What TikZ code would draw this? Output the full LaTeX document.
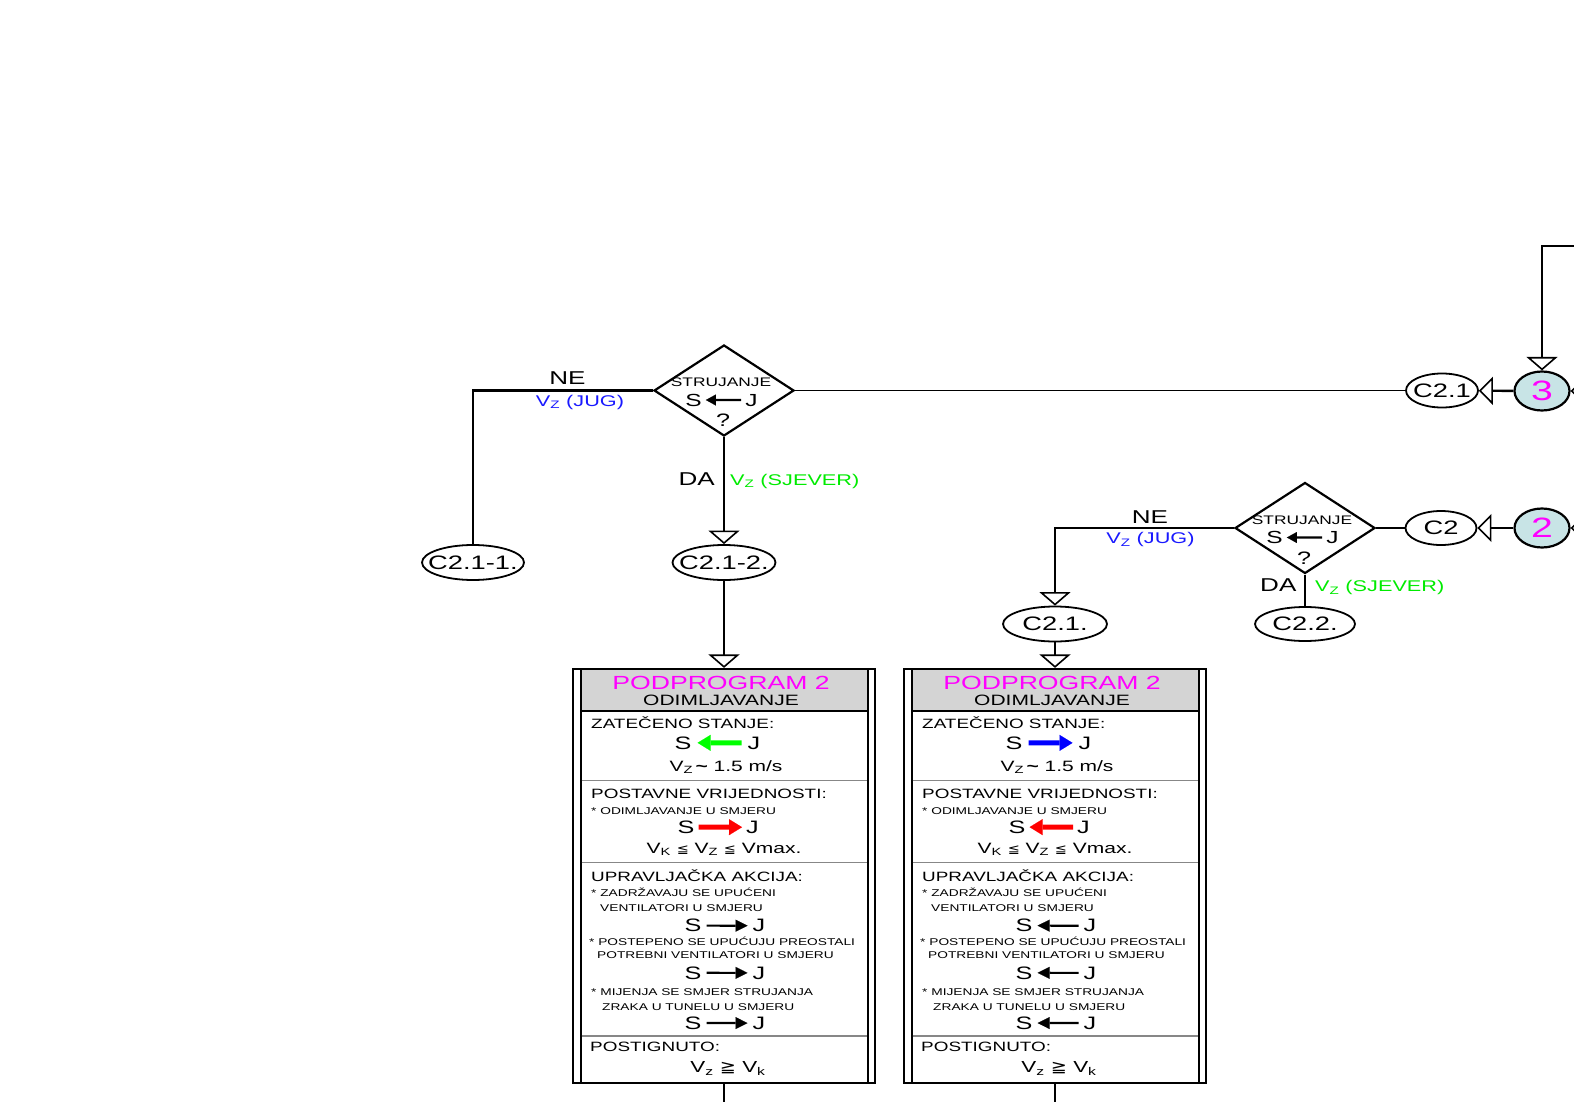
\documentclass[tikz,border=0pt]{standalone}
\usepackage{fontspec}
\setmainfont[FakeStretch=1.4]{Liberation Sans}
\newfontfamily\relfont[FakeStretch=1.2]{DejaVu Sans}
\usetikzlibrary{arrows.meta,shapes.geometric,calc}

\definecolor{prgmag}{RGB}{255,0,255}
\definecolor{jugblue}{RGB}{25,25,255}
\definecolor{sjgreen}{RGB}{0,235,0}
\definecolor{arrgreen}{RGB}{0,255,0}
\definecolor{arrblue}{RGB}{0,0,255}
\definecolor{arrred}{RGB}{255,0,0}
\definecolor{connfill}{RGB}{200,228,230}
\definecolor{hdrgrey}{RGB}{212,212,212}
\definecolor{sepgrey}{RGB}{135,135,135}

\newcommand\fsz[1]{\fontsize{#1}{#1}\selectfont}
% label set on a zero-width box so the ellipse keeps its own size
\newcommand\tag[1]{\makebox[0pt]{#1}}

\tikzset{
  conn/.style={line width=2.4pt},
  thinconn/.style={line width=1.6pt},
  downhead/.style={-{Triangle[open,length=13.5pt,width=31pt,line width=1.6pt]}},
  lefthead/.style={-{Triangle[open,length=14pt,width=28pt,line width=1.6pt]}},
  term/.style={ellipse,draw,line width=1.8pt,inner sep=0pt,fill=white,font=\fsz{19.5}},
  joint/.style={ellipse,draw,line width=2.2pt,inner sep=0pt,fill=connfill,
    minimum width=55pt,minimum height=39pt,font=\fsz{28},text=prgmag},
  decision/.style={diamond,draw,line width=2.2pt,inner sep=0pt,
    minimum width=140pt,minimum height=91pt},
  txt/.style={inner sep=0pt,anchor=base west},
  ctxt/.style={inner sep=0pt,anchor=base},
  letter/.style={inner sep=0pt,anchor=base,font=\fsz{18}},
  smallletter/.style={inner sep=0pt,anchor=base,font=\fsz{17.5}},
  wideflow/.style={line width=5pt,-{Triangle[length=13pt,width=16pt,line width=0.1pt]}},
  flow/.style={line width=2.2pt,-{Triangle[length=12pt,width=12pt,line width=0.1pt]}},
  tinyflow/.style={line width=2.2pt,-{Triangle[length=10pt,width=11pt,line width=0.1pt]}},
  boxframe/.style={draw,line width=2.2pt,inner sep=0pt,minimum width=302pt,minimum height=414pt},
  boxrule/.style={line width=2pt},
  seprule/.style={line width=1.6pt,draw=sepgrey},
}

% One "PODPROGRAM 2" block.
% #1 name prefix, #2 centre x, #3 colour of the present-flow arrow,
% #4/#5 ends of that arrow (s or j), #6/#7 ends of the set-point arrow,
% #8/#9 ends of the three action arrows
\newcommand\subprog[9]{%
  \fill[hdrgrey] ({#2-143.3},669) rectangle ({#2+143.5},711);
  \node[boxframe] (#1box) at (#2,876) {};
  \draw[boxrule] ({#2-143.3},669) -- ({#2-143.3},1083);
  \draw[boxrule] ({#2+143.5},669) -- ({#2+143.5},1083);
  \draw[boxrule] ({#2-143.3},711) -- ({#2+143.5},711);
  \draw[seprule] ({#2-142.4},780.5) -- ({#2+142.6},780.5);
  \draw[seprule] ({#2-142.4},862.5) -- ({#2+142.6},862.5);
  \draw[seprule] ({#2-142.4},1036) -- ({#2+142.6},1036);
  % header
  \node[ctxt,font=\fsz{19},text=prgmag] (#1title) at ({#2-3},689) {PODPROGRAM 2};
  \node[ctxt,font=\fsz{15}] (#1sub) at ({#2-3},705) {ODIMLJAVANJE};
  % present state
  \node[txt,font=\fsz{13.5}] (#1hz) at ({#2-133},728.5) {ZATEČENO STANJE:};
  \node[letter] (#1sa) at ({#2-41},749) {S};
  \node[letter] (#1ja) at ({#2+30},749) {J};
  \draw[wideflow,#3,shorten <=6pt,shorten >=6pt] (#1#4a) -- (#1#5a);
  \node[ctxt,font=\fsz{15}] (#1vz) at ({#2+2},771.4)
    {V\textsubscript{Z}\,\textbf{\textasciitilde} 1.5 m/s};
  % set point
  \node[txt,font=\fsz{13.5}] (#1hp) at ({#2-133},798.8) {POSTAVNE VRIJEDNOSTI:};
  \node[txt,font=\fsz{9.8}] (#1pa) at ({#2-133},814.5) {* ODIMLJAVANJE U SMJERU};
  \node[letter] (#1sb) at ({#2-38},833.3) {S};
  \node[letter] (#1jb) at ({#2+28.5},833.3) {J};
  \draw[wideflow,arrred,shorten <=4pt,shorten >=4pt] (#1#6b) -- (#1#7b);
  \node[ctxt,font=\fsz{15}] (#1lim) at (#2,853.4)
    {V\textsubscript{K} {\relfont\fsz{12}≦} V\textsubscript{Z} {\relfont\fsz{12}≦} Vmax.};
  % control action
  \node[txt,font=\fsz{13.5}] (#1hu) at ({#2-133},881.1) {UPRAVLJAČKA AKCIJA:};
  \node[txt,font=\fsz{9.8}] (#1ua) at ({#2-133},896.9) {* ZADRŽAVAJU SE UPUĆENI};
  \node[txt,font=\fsz{9.8}] (#1ub) at ({#2-124},911.9) {VENTILATORI U SMJERU};
  \node[letter] (#1sc) at ({#2-31},931.8) {S};
  \node[letter] (#1jc) at ({#2+35},931.8) {J};
  \draw[flow,shorten <=5pt,shorten >=5pt] (#1#8c) -- (#1#9c);
  \node[txt,font=\fsz{9.8}] (#1uc) at ({#2-135},945.1) {* POSTEPENO SE UPUĆUJU PREOSTALI};
  \node[txt,font=\fsz{9.8}] (#1ud) at ({#2-127},958.1) {POTREBNI VENTILATORI U SMJERU};
  \node[letter] (#1sd) at ({#2-31},979) {S};
  \node[letter] (#1jd) at ({#2+35},979) {J};
  \draw[flow,shorten <=5pt,shorten >=5pt] (#1#8d) -- (#1#9d);
  \node[txt,font=\fsz{9.8}] (#1ue) at ({#2-133},995.3) {* MIJENJA SE SMJER STRUJANJA};
  \node[txt,font=\fsz{9.8}] (#1uf) at ({#2-122},1010.3) {ZRAKA U TUNELU U SMJERU};
  \node[letter] (#1se) at ({#2-31},1029.2) {S};
  \node[letter] (#1je) at ({#2+35},1029.2) {J};
  \draw[flow,shorten <=5pt,shorten >=5pt] (#1#8e) -- (#1#9e);
  % result
  \node[txt,font=\fsz{13.5}] (#1hr) at ({#2-134},1051.8) {POSTIGNUTO:};
  \node[ctxt,font=\fsz{16}] (#1res) at ({#2+4},1072.7)
    {V\textsubscript{z} {\relfont\fsz{16}≧} V\textsubscript{k}};
}

% Text of a "STRUJANJE S <- J ?" decision, #1 prefix, #2 centre x, #3 centre y
\newcommand\decisiontext[3]{%
  \node[ctxt,font=\fsz{12.4}] (#1q) at ({#2-3},{#3-3.8}) {STRUJANJE};
  \node[smallletter] (#1s) at ({#2-30.5},{#3+15.5}) {S};
  \node[smallletter] (#1j) at ({#2+27.5},{#3+15.5}) {J};
  \draw[tinyflow,shorten <=4pt,shorten >=4pt] (#1j) -- (#1s);
  \node[ctxt,font=\fsz{18}] (#1m) at ({#2-1},{#3+36}) {?};
}

\begin{document}
\begin{tikzpicture}[x=1pt,y=-1pt]
\useasboundingbox (0,0) rectangle (1574,1102);
\clip (0,0) rectangle (1574,1102);

% ---- upper decision
\node[decision] (d1) at (724,390.5) {};
\decisiontext{da}{724}{390.5}
\node[term,minimum width=102pt,minimum height=35pt] (c211) at (473,562.5) {\tag{C2.1-1.}};
\node[term,minimum width=103pt,minimum height=35pt] (c212) at (724,562.5) {\tag{C2.1-2.}};
\node[term,minimum width=72pt,minimum height=34pt] (c21) at (1442,390.5) {\tag{C2.1}};
\node[joint] (j3) at (1542,391) {\tag{3}};
\coordinate (feed3) at (1574,246);
\coordinate (side3) at (1600,391);

\node[txt,font=\fsz{18.6},anchor=base] (ne1) at (567.5,384.5) {NE};
\node[txt,font=\fsz{15.5},anchor=base,text=jugblue] (jug1) at (580,406) {V\textsubscript{Z} (JUG)};
\node[txt,font=\fsz{18.6},anchor=base] (da1) at (696.7,485) {DA};
\node[txt,font=\fsz{15.5},text=sjgreen] (sj1) at (730,485) {V\textsubscript{Z} (SJEVER)};

\draw[conn,downhead] (feed3) -| (j3.north);
\draw[conn,lefthead] (side3) -- (j3.east);
\draw[conn,lefthead] (j3) -- (c21);
\draw[thinconn] (c21) -- (d1);
\draw[conn] (d1.west) -| (c211.north);
\draw[conn,downhead] (d1.south) -- (c212.north);

% ---- lower decision
\node[decision] (d2) at (1305,528) {};
\decisiontext{db}{1305}{528}
\node[term,minimum width=104pt,minimum height=35pt] (c21b) at (1055,624) {\tag{C2.1.}};
\node[term,minimum width=100pt,minimum height=34pt] (c22) at (1305,624) {\tag{C2.2.}};
\node[term,minimum width=71pt,minimum height=34pt] (c2) at (1441,528) {\tag{C2}};
\node[joint] (j2) at (1542,528) {\tag{2}};
\coordinate (side2) at (1600,528);

\node[txt,font=\fsz{18.6},anchor=base] (ne2) at (1150,523) {NE};
\node[txt,font=\fsz{15.5},anchor=base,text=jugblue] (jug2) at (1150.5,543.5) {V\textsubscript{Z} (JUG)};
\node[txt,font=\fsz{18.6},anchor=base] (da2) at (1278.3,591.7) {DA};
\node[txt,font=\fsz{15.5},text=sjgreen] (sj2) at (1315,591.7) {V\textsubscript{Z} (SJEVER)};

\draw[conn,lefthead] (side2) -- (j2.east);
\draw[conn,lefthead] (j2) -- (c2);
\draw[conn] (c2) -- (d2);
\draw[conn,downhead] (d2.west) -| (c21b.north);
\draw[conn] (d2.south) -- (c22.north);

% ---- sub-programme blocks
\subprog{pa}{724}{arrgreen}{j}{s}{s}{j}{s}{j}
\subprog{pb}{1055}{arrblue}{s}{j}{j}{s}{j}{s}

\coordinate (out1) at (724,1102);
\coordinate (out2) at (1055,1102);
\draw[conn,downhead] (c212.south) -- (pabox.north);
\draw[conn,downhead] (c21b.south) -- (pbbox.north);
\draw[conn] (pabox.south) -- (out1);
\draw[conn] (pbbox.south) -- (out2);
\end{tikzpicture}
\end{document}
